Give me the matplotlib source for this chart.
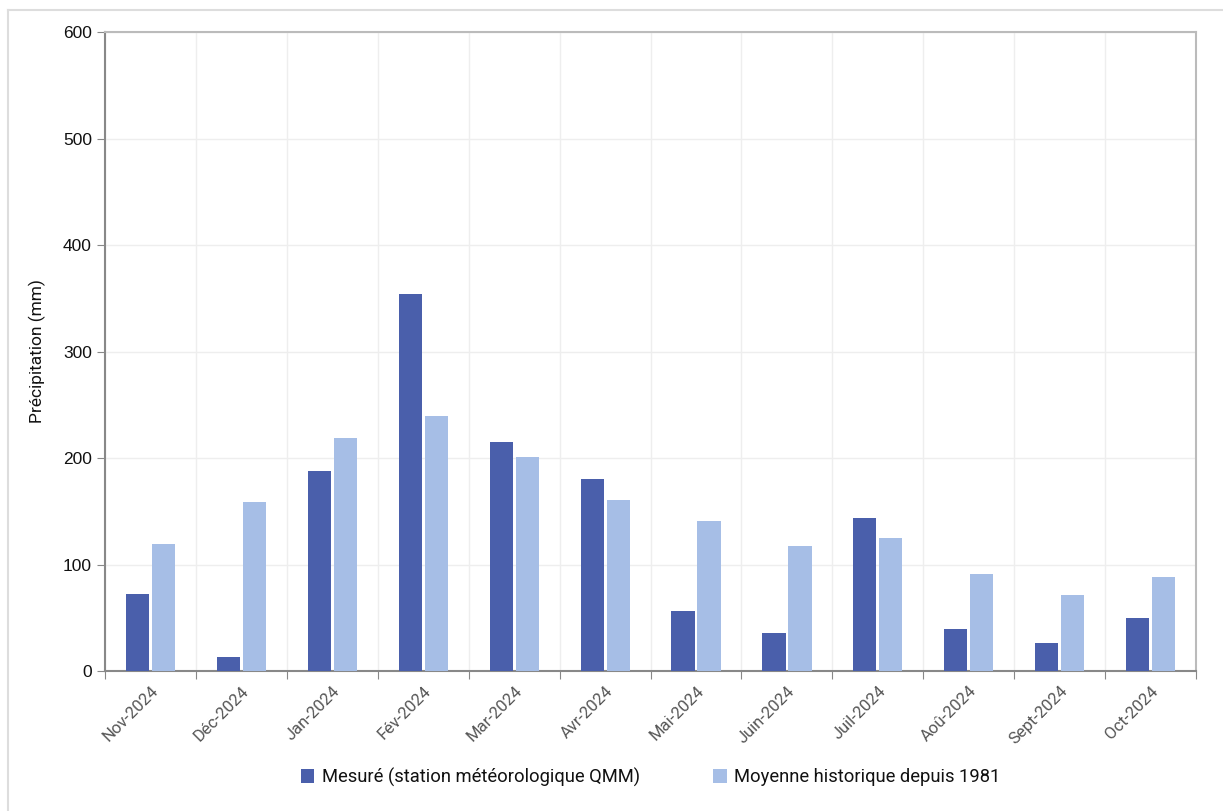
import matplotlib
matplotlib.use("Agg")
import matplotlib.pyplot as plt
from matplotlib.lines import Line2D
import numpy as np

mois = ["Nov-2024", "Déc-2024", "Jan-2024", "Fév-2024", "Mar-2024", "Avr-2024",
        "Mai-2024", "Juin-2024", "Juil-2024", "Aoû-2024", "Sept-2024", "Oct-2024"]
mesure = [72, 13, 188, 354, 215, 180, 56, 36, 144, 39, 26, 50]
moyenne = [119, 159, 219, 239, 201, 161, 141, 117, 125, 91, 71, 88]

c_mesure = "#4a5fab"
c_moyenne = "#a6bee6"

fig = plt.figure(figsize=(12.23, 8.11), dpi=100)
ax = fig.add_axes([0.0859, 0.1726, 0.8921, 0.7879])

x = np.arange(len(mois))
w = 0.255
ax.bar(x - 0.143, mesure, w, color=c_mesure, label="Mesuré (station météorologique QMM)", zorder=3)
ax.bar(x + 0.143, moyenne, w, color=c_moyenne, label="Moyenne historique depuis 1981", zorder=3)

ax.set_xlim(-0.5, len(mois) - 0.5)
ax.set_ylim(0, 600)
ax.set_yticks(range(0, 601, 100))
ax.tick_params(axis="y", labelsize=12.5, length=6, color="#888888", labelcolor="#111111",
               labelfontfamily="Liberation Sans")

# ticks and vertical grid at category boundaries, labels at centers
ax.set_xticks(np.arange(-0.5, len(mois)), minor=False)
ax.set_xticklabels([])
ax.set_xticks(x, minor=True)
ax.set_xticklabels(mois, minor=True, rotation=45, ha="right", rotation_mode="anchor",
                   fontsize=12, color="#555555", family="Roboto")
ax.tick_params(axis="x", which="major", length=6, color="#888888")
ax.tick_params(axis="x", which="minor", length=0, pad=9)

ax.grid(True, which="major", color="#eeeeee", linewidth=1, zorder=0)
ax.set_axisbelow(True)

ax.spines["left"].set_color("#888888")
ax.spines["bottom"].set_color("#888888")
ax.spines["top"].set_color("#bbbbbb")
ax.spines["right"].set_color("#bbbbbb")
for s in ax.spines.values():
    s.set_linewidth(1.5)

ax.set_ylabel("Précipitation (mm)", fontsize=12.5, family="Roboto", color="#111111", labelpad=12)

leg = fig.legend(loc="center", bbox_to_anchor=(0.532, 0.042), ncol=2, frameon=False,
                 handlelength=0.75, handleheight=0.75, handletextpad=0.4, columnspacing=4.0,
                 prop={"family": "Roboto", "size": 13.2})
for t in leg.get_texts():
    t.set_color("#111111")

# light frame around the figure
fig.add_artist(Line2D([0.0065, 0.0065], [0.0, 0.988], color="#dddddd", linewidth=1.5))
fig.add_artist(Line2D([0.0065, 1.0], [0.988, 0.988], color="#dddddd", linewidth=1.5))

fig.savefig("out.png", dpi=100)
